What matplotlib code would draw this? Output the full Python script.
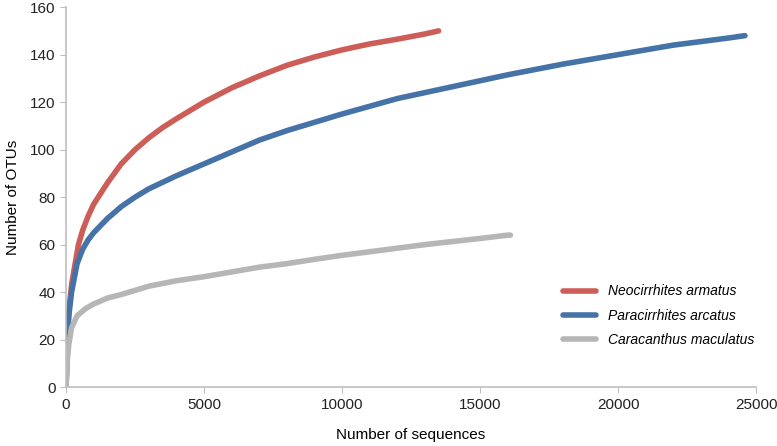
import matplotlib
matplotlib.use('Agg')
from matplotlib import pyplot as plt

plt.rcParams['font.family'] = ['Liberation Sans', 'DejaVu Sans']

# Neocirrhites armatus
neo_x = [0, 50, 100, 200, 300, 450, 600, 800, 1000, 1500, 2000, 2500, 3000, 3500, 4000,
         5000, 6000, 7000, 8000, 9000, 10000, 11000, 12000, 13000, 13500]
neo_y = [0, 20, 32, 43, 50, 60, 66, 72, 77, 86, 94, 100, 105, 109.3, 113,
         120, 126, 131, 135.5, 139, 142, 144.5, 146.5, 148.7, 150]

# Paracirrhites arcatus
par_x = [0, 50, 100, 200, 400, 600, 800, 1000, 1500, 2000, 2500, 3000, 4000, 5000,
         6000, 7000, 8000, 9000, 10000, 12000, 14000, 16000, 18000, 20000, 22000, 24000, 24600]
par_y = [0, 20, 30, 40, 52, 58, 62, 65, 71, 76, 80, 83.5, 89, 94,
         99, 104, 108, 111.5, 115, 121.5, 126.5, 131.5, 136, 140, 144, 147, 148]

# Caracanthus maculatus
car_x = [0, 50, 100, 200, 400, 700, 1000, 1500, 2000, 3000, 4000, 5000, 6000, 7000,
         8000, 9000, 10000, 11000, 12000, 13000, 14000, 15000, 16000, 16100]
car_y = [0, 12, 18, 25, 30, 33, 35, 37.5, 39, 42.5, 44.8, 46.5, 48.5, 50.5,
         52, 53.8, 55.5, 57, 58.5, 60, 61.3, 62.6, 64, 64]

fig = plt.figure(figsize=(7.77, 4.46), dpi=100)
ax = fig.add_axes([0.085, 0.132, 0.888, 0.852])

ax.plot(neo_x, neo_y, color='#CD5D57', lw=4, solid_capstyle='round', label='Neocirrhites armatus')
ax.plot(par_x, par_y, color='#4572A7', lw=4, solid_capstyle='round', label='Paracirrhites arcatus')
ax.plot(car_x, car_y, color='#B6B6B6', lw=4, solid_capstyle='round', label='Caracanthus maculatus')

ax.set_xlim(0, 25000)
ax.set_ylim(0, 160)
ax.set_xticks(range(0, 25001, 5000))
ax.set_yticks(range(0, 161, 20))

for s in ['top', 'right']:
    ax.spines[s].set_visible(False)
for s in ['left', 'bottom']:
    ax.spines[s].set_color('#BFBFBF')
    ax.spines[s].set_linewidth(1.2)
ax.tick_params(axis='both', colors='#BFBFBF', labelcolor='#222222', labelsize=11, length=4)

ax.set_xlabel('Number of sequences', fontsize=11, labelpad=12)
ax.set_ylabel('Number of OTUs', fontsize=11, labelpad=7)

leg = ax.legend(loc='upper left', bbox_to_anchor=(0.712, 0.285), borderaxespad=0, frameon=False,
                prop={'style': 'italic', 'size': 10}, handlelength=2.4, handletextpad=0.85,
                labelspacing=0.75)

fig.savefig('out.png', dpi=100)
